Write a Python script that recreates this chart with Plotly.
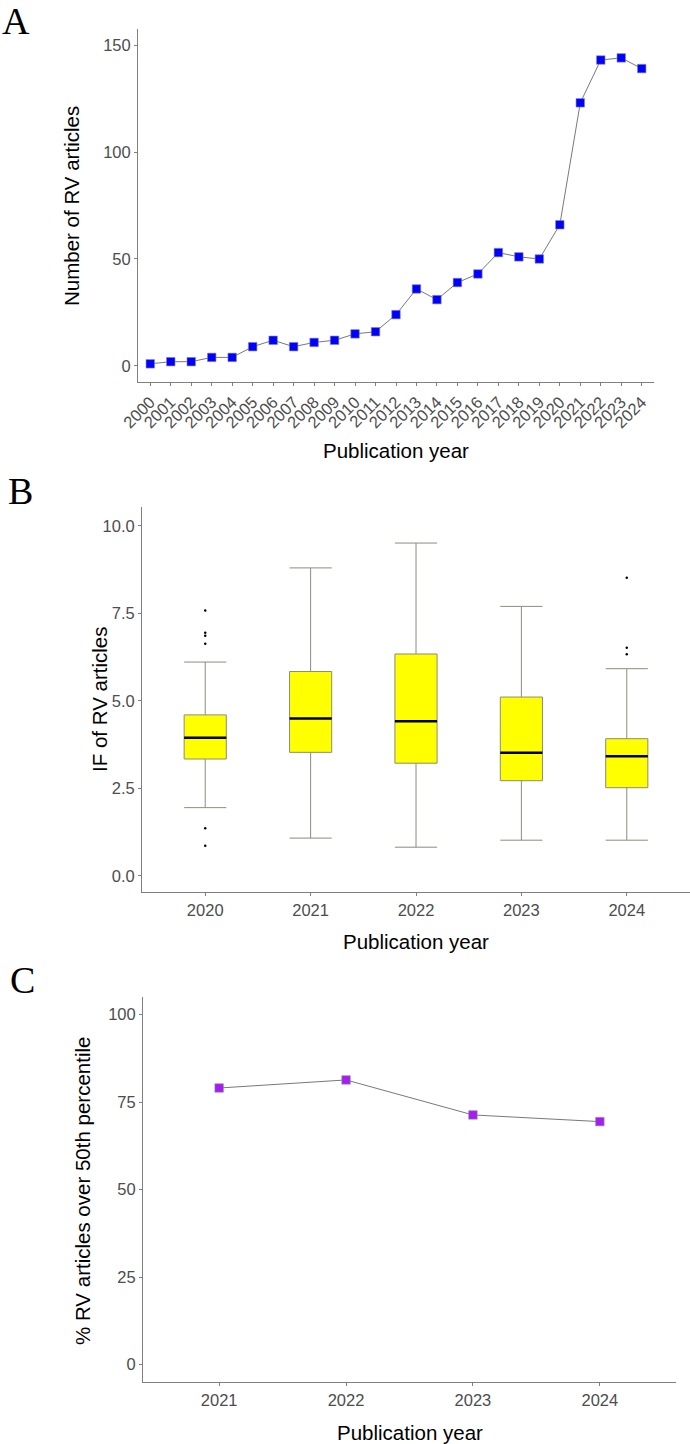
import plotly.graph_objects as go

W, H = 690, 1444

# ---------- Data ----------
years_a = list(range(2000, 2025))
counts_a = [1, 2, 2, 4, 4, 9, 12, 9, 11, 12, 15, 16, 24, 36, 31, 39, 43, 53, 51, 50,
            66, 123, 143, 144, 139]

years_b = ["2020", "2021", "2022", "2023", "2024"]
q1_b = [3.34, 3.53, 3.22, 2.72, 2.52]
med_b = [3.95, 4.50, 4.42, 3.52, 3.42]
q3_b = [4.60, 5.84, 6.34, 5.11, 3.92]
low_b = [1.95, 1.08, 0.82, 1.02, 1.02]
up_b = [6.11, 8.80, 9.51, 7.70, 5.92]
outliers_2020 = [0.86, 1.36, 6.63, 6.86, 6.95, 7.58]
outliers_2024 = [6.33, 6.52, 8.52]

years_c = ["2021", "2022", "2023", "2024"]
pct_c = [79.0, 81.3, 71.3, 69.4]

# ---------- Style ----------
FONT = "Liberation Sans, Arial, Helvetica, sans-serif"
AX = "#7F7F7F"
TICKF = dict(family=FONT, size=16.5, color="#4D4D4D")
BOXW = 0.4


def py(px):
    return 1 - px / H


def px_x(px):
    return px / W


fig = go.Figure()

# Panel A
fig.add_trace(go.Scatter(
    x=years_a, y=counts_a, mode="lines+markers",
    line=dict(color="#555555", width=0.8),
    marker=dict(symbol="square", size=8.5, color="#0000FF",
                line=dict(color="#8888AA", width=0.6)),
    xaxis="x", yaxis="y", showlegend=False))

# Panel B
xb = list(range(len(years_b)))
fig.add_trace(go.Box(
    x=xb, q1=q1_b, median=med_b, q3=q3_b, lowerfence=low_b, upperfence=up_b,
    width=BOXW, whiskerwidth=1, boxpoints=False,
    fillcolor="#FFFF00", line=dict(color="#8C8C7A", width=1),
    xaxis="x2", yaxis="y2", showlegend=False))

mx, my = [], []
for i, m in enumerate(med_b):
    mx += [i - BOXW / 2, i + BOXW / 2, None]
    my += [m, m, None]
fig.add_trace(go.Scatter(x=mx, y=my, mode="lines",
                         line=dict(color="black", width=2.5),
                         xaxis="x2", yaxis="y2", showlegend=False))

ox = [0] * len(outliers_2020) + [4] * len(outliers_2024)
oy = outliers_2020 + outliers_2024
fig.add_trace(go.Scatter(x=ox, y=oy, mode="markers",
                         marker=dict(color="black", size=2.5),
                         xaxis="x2", yaxis="y2", showlegend=False))

# Panel C
xc = list(range(len(years_c)))
fig.add_trace(go.Scatter(
    x=xc, y=pct_c, mode="lines+markers",
    line=dict(color="#555555", width=0.8),
    marker=dict(symbol="square", size=8.5, color="#A020F0",
                line=dict(color="#9A88AA", width=0.6)),
    xaxis="x3", yaxis="y3", showlegend=False))

common = dict(showline=True, linecolor=AX, linewidth=1, ticks="outside",
              ticklen=3, tickcolor=AX, showgrid=False, zeroline=False,
              tickfont=TICKF, mirror=False, automargin=False)

fig.update_layout(
    width=W, height=H, margin=dict(l=0, r=0, t=0, b=0),
    paper_bgcolor="white", plot_bgcolor="white",
    xaxis=dict(domain=[px_x(138), px_x(654)], anchor="y",
               range=[1999.4, 2024.6], tickvals=years_a,
               ticktext=[str(y) for y in years_a], tickangle=-45,
               **{**common, "tickfont": dict(family=FONT, size=16.5, color="#4D4D4D")}),
    yaxis=dict(domain=[py(382), py(29)], anchor="x",
               range=[-7.5, 157.5], tickvals=[0, 50, 100, 150], **common),
    xaxis2=dict(domain=[px_x(142), px_x(690)], anchor="y2",
                range=[-0.6, 4.6], tickvals=xb, ticktext=years_b, **common),
    yaxis2=dict(domain=[py(892), py(507)], anchor="x2",
                range=[-0.46, 10.54], tickvals=[0, 2.5, 5, 7.5, 10],
                ticktext=["0.0", "2.5", "5.0", "7.5", "10.0"], **common),
    xaxis3=dict(domain=[px_x(143), px_x(676)], anchor="y3",
                range=[-0.6, 3.6], tickvals=xc, ticktext=years_c, **common),
    yaxis3=dict(domain=[py(1382), py(997)], anchor="x3",
                range=[-5, 105], tickvals=[0, 25, 50, 75, 100], **common),
)

TF = dict(family=FONT, size=20.5, color="black")
LF = dict(family="Liberation Serif, Times New Roman, serif", size=38, color="black")
ann = [
    dict(text="Number of RV articles", x=px_x(72), y=py(206), textangle=-90, font=TF),
    dict(text="Publication year", x=px_x(396), y=py(450), font=TF),
    dict(text="IF of RV articles", x=px_x(99), y=py(700), textangle=-90, font=TF),
    dict(text="Publication year", x=px_x(416), y=py(941), font=TF),
    dict(text="% RV articles over 50th percentile", x=px_x(82), y=py(1191),
         textangle=-90, font=TF),
    dict(text="Publication year", x=px_x(410), y=py(1432), font=TF),
]
for a in ann:
    fig.add_annotation(xref="paper", yref="paper", showarrow=False,
                       xanchor="center", yanchor="middle", **a)
for txt, x, y in [("A", 0, -2), ("B", 6, 468), ("C", 8, 957)]:
    fig.add_annotation(text=txt, xref="paper", yref="paper", x=px_x(x), y=py(y),
                       xanchor="left", yanchor="top", showarrow=False, font=LF)

fig.write_html("out.html")
